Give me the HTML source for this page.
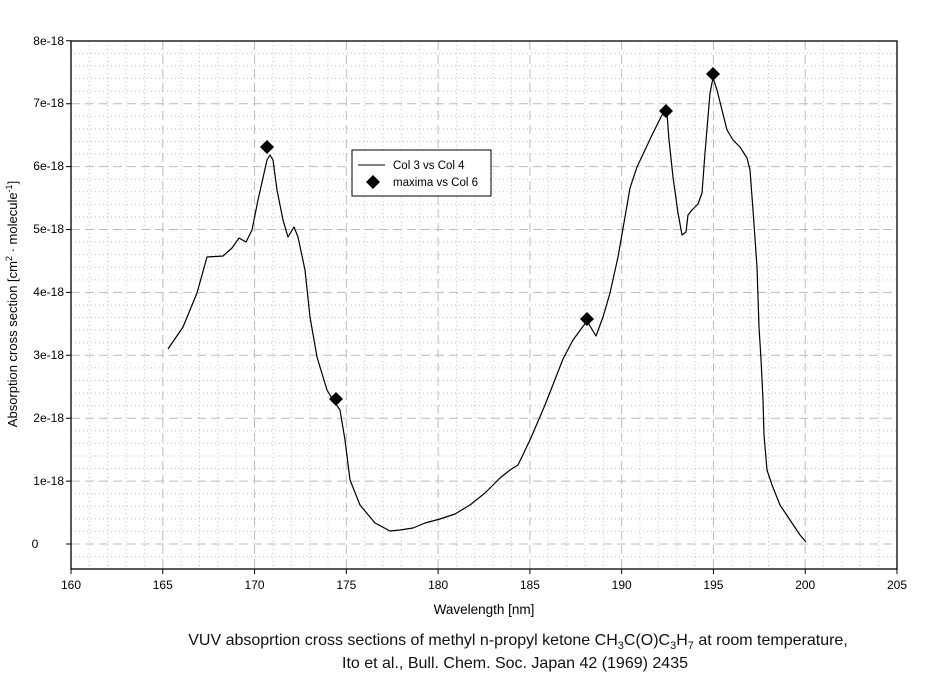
<!DOCTYPE html>
<html><head><meta charset="utf-8"><style>
body{margin:0;background:#fff;width:937px;height:676px;overflow:hidden;font-family:"Liberation Sans",Arial,sans-serif}
</style></head><body>
<svg width="937" height="676" xmlns="http://www.w3.org/2000/svg" font-family="Liberation Sans, Arial, sans-serif">
<rect width="937" height="676" fill="#fff"/>
<path fill="none" stroke="#c4c4c4" stroke-dasharray="1,3" d="M89.36,41V569M107.71,41V569M126.07,41V569M144.42,41V569M181.13,41V569M199.49,41V569M217.84,41V569M236.2,41V569M272.91,41V569M291.27,41V569M309.62,41V569M327.98,41V569M364.69,41V569M383.04,41V569M401.4,41V569M419.76,41V569M456.47,41V569M474.82,41V569M493.18,41V569M511.53,41V569M548.24,41V569M566.6,41V569M584.96,41V569M603.31,41V569M640.02,41V569M658.38,41V569M676.73,41V569M695.09,41V569M731.8,41V569M750.16,41V569M768.51,41V569M786.87,41V569M823.58,41V569M841.93,41V569M860.29,41V569M878.64,41V569
M71,556.58H897M71,531.42H897M71,518.84H897M71,506.26H897M71,493.68H897M71,468.52H897M71,455.94H897M71,443.36H897M71,430.78H897M71,405.62H897M71,393.04H897M71,380.46H897M71,367.88H897M71,342.72H897M71,330.14H897M71,317.56H897M71,304.98H897M71,279.82H897M71,267.24H897M71,254.66H897M71,242.08H897M71,216.92H897M71,204.34H897M71,191.76H897M71,179.18H897M71,154.02H897M71,141.44H897M71,128.86H897M71,116.28H897M71,91.12H897M71,78.54H897M71,65.96H897M71,53.38H897"/>
<path fill="none" stroke="#bcbcbc" stroke-dasharray="9,5" d="M162.78,41V569M254.56,41V569M346.33,41V569M438.11,41V569M529.89,41V569M621.67,41V569M713.44,41V569M805.22,41V569
M71,544H897M71,481.1H897M71,418.2H897M71,355.3H897M71,292.4H897M71,229.5H897M71,166.6H897M71,103.7H897"/>
<path fill="none" stroke="#000" d="M66,544H71M66,481.1H71M66,418.2H71M66,355.3H71M66,292.4H71M66,229.5H71M66,166.6H71M66,103.7H71M66,40.8H71
M71,569V574M162.78,569V574M254.56,569V574M346.33,569V574M438.11,569V574M529.89,569V574M621.67,569V574M713.44,569V574M805.22,569V574M897,569V574"/>
<g font-size="12" text-anchor="end">
<text x="35" y="548" text-anchor="middle">0</text>
<text x="64" y="485">1e-18</text>
<text x="64" y="422">2e-18</text>
<text x="64" y="359">3e-18</text>
<text x="64" y="296">4e-18</text>
<text x="64" y="233">5e-18</text>
<text x="64" y="170">6e-18</text>
<text x="64" y="107">7e-18</text>
<text x="64" y="45">8e-18</text>
</g>
<g font-size="12" text-anchor="middle">
<text x="71" y="589">160</text><text x="162.78" y="589">165</text><text x="254.56" y="589">170</text><text x="346.33" y="589">175</text><text x="438.11" y="589">180</text><text x="529.89" y="589">185</text><text x="621.67" y="589">190</text><text x="713.44" y="589">195</text><text x="805.22" y="589">200</text><text x="897" y="589">205</text>
</g>
<rect x="71" y="41" width="826" height="528" fill="none" stroke="#000" stroke-width="1.3"/>
<polyline fill="none" stroke="#000" stroke-width="1.2" stroke-linejoin="round" points="168,349 183,327 197,293 207,257 223,256 232,248 239,238 246,242 252,230 258,200 267,160 270,155 273,160 277,190 283,220 288,237 294,227 298,237 305,270 310,317 317,357 327,390 333,400 340,410 345,440 350,480 360,505 375,523 390,531 400,530 413,528 425,523 440,519 455,514 470,505 485,493 500,478 510,470 518,465 530,440 545,405 563,359 573,340 587,321 596,336 603,317 610,293 618,257 625,217 630,188 637,167 645,150 653,133 662,115 667,113 669,140 673,177 678,213 682,235 686,232 688,215 692,210 698,204 702,193 705,153 710,93 713,78 717,90 722,110 727,130 733,140 740,147 747,158 750,170 753,210 757,267 759,327 761,359 763,400 764,435 767,470 772,485 780,505 790,520 800,535 806,542"/>
<g fill="#000">
<path d="M267,140 l7,7 -7,7 -7,-7z"/>
<path d="M336,392 l7,7 -7,7 -7,-7z"/>
<path d="M587,312 l7,7 -7,7 -7,-7z"/>
<path d="M666,104 l7,7 -7,7 -7,-7z"/>
<path d="M713,67 l7,7 -7,7 -7,-7z"/>
</g>
<rect x="352" y="150" width="139" height="46" fill="#fff" stroke="#000"/>
<line x1="358" y1="165" x2="385" y2="165" stroke="#000"/>
<text x="393" y="169" font-size="11.5">Col 3 vs Col 4</text>
<path d="M373,175 l7,7 -7,7 -7,-7z" fill="#000"/>
<text x="393" y="186" font-size="11.5">maxima vs Col 6</text>
<text x="484" y="614" font-size="13.5" text-anchor="middle">Wavelength [nm]</text>
<text transform="translate(17,304) rotate(-90)" font-size="13" text-anchor="middle">Absorption cross section [cm<tspan font-size="9" dy="-5">2</tspan><tspan dy="5"> · molecule</tspan><tspan font-size="9" dy="-5">-1</tspan><tspan dy="5">]</tspan></text>
<text x="518" y="645" font-size="16" text-anchor="middle" fill="#111">VUV absoprtion cross sections of methyl n-propyl ketone CH<tspan font-size="11" dy="4">3</tspan><tspan dy="-4">C(O)C</tspan><tspan font-size="11" dy="4">3</tspan><tspan dy="-4">H</tspan><tspan font-size="11" dy="4">7</tspan><tspan dy="-4"> at room temperature,</tspan></text>
<text x="515" y="668" font-size="16" text-anchor="middle" fill="#111">Ito et al., Bull. Chem. Soc. Japan 42 (1969) 2435</text>
</svg>
</body></html>
